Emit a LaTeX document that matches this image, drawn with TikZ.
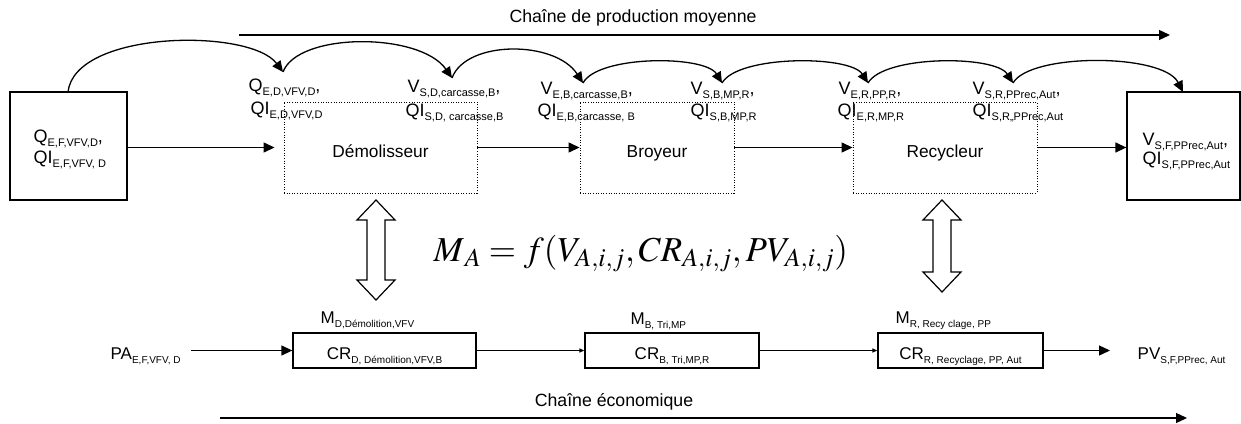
\documentclass[tikz,border=0pt]{standalone}
\usepackage{mathptmx}
\usepackage[no-math]{fontspec}
\setmainfont{Liberation Sans}
\usetikzlibrary{arrows.meta}

\newcommand{\tsub}[2]{#1\raisebox{-4.5pt}{\fontsize{11}{12}\selectfont #2}}
\newcommand{\bsub}[2]{#1\raisebox{-4pt}{\fontsize{10}{11}\selectfont #2}}

\begin{document}
\begin{tikzpicture}[x=1pt,y=-1pt,line width=1.3pt,
    flow/.style={-{Triangle[length=11pt,width=10pt]}},
    thinflow/.style={-{Triangle[length=5pt,width=4pt]}},
    actor/.style={draw,line width=0.9pt,dash pattern=on 1pt off 1.6pt,inner sep=0pt,
        minimum height=91,text height=19pt,text depth=0pt,font=\fontsize{17.3}{18}\selectfont},
    ecobox/.style={draw,inner sep=0pt,minimum height=35,text height=17pt,text depth=0pt,
        font=\fontsize{17}{18}\selectfont},
    lbl/.style={anchor=base west,inner sep=0pt,font=\fontsize{18}{18}\selectfont},
    blbl/.style={anchor=base west,inner sep=0pt,font=\fontsize{17}{17}\selectfont},
    title/.style={anchor=base,inner sep=0pt,font=\fontsize{17.7}{18}\selectfont},
    hollow/.style={fill=white,line width=1.2pt}]
    \useasboundingbox (0,0) rectangle (1241,423);

    % Chaine de production
    \coordinate (prodL) at (239,35);
    \coordinate (prodR) at (1170,35);
    \draw[flow] (prodL) -- (prodR);
    \node[title] (prodtitle) at (633,23) {Chaîne de production moyenne};

    % Entree, acteurs, sortie
    \node[draw,inner sep=0pt,minimum width=117,minimum height=108] (src) at (68.5,146) {};
    \node[actor,minimum width=193] (demol) at (380.5,147.5) {Démolisseur};
    \node[actor,minimum width=154] (broy) at (657,147.5) {Broyeur};
    \node[actor,minimum width=184] (recyc) at (945,147.5) {Recycleur};
    \node[draw,inner sep=0pt,minimum width=113,minimum height=108] (dst) at (1183.5,146) {};

    \draw[flow,shorten >=9pt] (src.east |- demol.west) -- (demol.west);
    \draw[flow] (demol) -- (broy);
    \draw[flow] (broy) -- (recyc);
    \draw[flow] (recyc.east) -- (dst.west |- recyc.east);

    % Quantites et valeurs
    \node[lbl] (qF) at (33,142) {\tsub{Q}{E,F,VFV,D},};
    \node[lbl] (qiF) at (33,163) {\tsub{QI}{E,F,VFV, D}};
    \node[lbl] (qED) at (248,91) {\tsub{Q}{E,D,VFV,D},};
    \node[lbl] (qiED) at (250,114) {\tsub{QI}{E,D,VFV,D}};
    \node[lbl] (vSD) at (407,92) {\tsub{V}{S,D,carcasse,B},};
    \node[lbl] (qiSD) at (405,116) {\tsub{QI}{S,D, carcasse,B}};
    \node[lbl] (vEB) at (540,94) {\tsub{V}{E,B,carcasse,B},};
    \node[lbl] (qiEB) at (537,116) {\tsub{QI}{E,B,carcasse, B}};
    \node[lbl] (vSB) at (690,94) {\tsub{V}{S,B,MP,R},};
    \node[lbl] (qiSB) at (690,116) {\tsub{QI}{S,B,MP,R}};
    \node[lbl] (vER) at (838,94) {\tsub{V}{E,R,PP,R},};
    \node[lbl] (qiER) at (837,116) {\tsub{QI}{E,R,MP,R}};
    \node[lbl] (vSR) at (972,94) {\tsub{V}{S,R,PPrec,Aut},};
    \node[lbl] (qiSR) at (972,116) {\tsub{QI}{S,R,,PPrec,Aut}};
    \node[lbl] (vSF) at (1142,145) {\tsub{V}{S,F,PPrec,Aut},};
    \node[lbl] (qiSF) at (1142,164) {\tsub{QI}{S,F,PPrec,Aut}};

    % Arcs entre les etapes
    \coordinate (a0) at (68,92);
    \coordinate (a1) at (283,72);
    \coordinate (a2) at (452,78);
    \coordinate (a3) at (583,83);
    \coordinate (a4) at (722,83);
    \coordinate (a5) at (868,83);
    \coordinate (a6) at (1013,83);
    \coordinate (a7) at (1183,92);
    \draw[flow] (a0) .. controls (75,30) and (250,28) .. (a1);
    \draw[flow] (a1) .. controls (298,32) and (420,32) .. (a2);
    \draw[flow] (a2) .. controls (466,40) and (555,40) .. (a3);
    \draw[flow] (a3) .. controls (598,55) and (705,55) .. (a4);
    \draw[flow] (a4) .. controls (738,55) and (850,55) .. (a5);
    \draw[flow] (a5) .. controls (884,55) and (995,55) .. (a6);
    \draw[flow] (a6) .. controls (1030,53) and (1163,53) .. (a7);

    % Doubles fleches
    \foreach \x/\t/\b in {376/200/300, 942/200/292} {
        \draw[hollow] (\x,\t) -- ++(19,20) -- ++(-10,0) -- (\x+9,\b-20) -- ++(10,0)
            -- (\x,\b) -- ++(-19,-20) -- ++(10,0) -- (\x-9,\t+20) -- ++(-10,0) -- cycle;
    }

    \node[anchor=base west,inner sep=0pt,font=\fontsize{35}{36}\selectfont] (eqM) at (433,261)
        {$M_{\,A} = f(V_{A,i,j},CR_{A,i,j},PV_{A,i,j})$};

    % Chaine economique
    \node[blbl] (pa) at (110,359) {\bsub{PA}{E,F,VFV, D}};
    \node[ecobox,minimum width=183] (crD) at (384.5,350.5) {\bsub{CR}{D, Démolition,VFV,B}};
    \node[ecobox,minimum width=174] (crB) at (672,350.5) {\bsub{CR}{B, Tri,MP,R}};
    \node[ecobox,minimum width=165] (crR) at (960.5,350.5) {\bsub{CR}{R, Recyclage, PP, Aut}};
    \node[blbl] (pv) at (1137,359) {\bsub{PV}{S,F,PPrec, Aut}};
    \node[blbl] (mD) at (320,323) {\bsub{M}{D,Démolition,VFV}};
    \node[blbl] (mB) at (630,324) {\bsub{M}{B, Tri,MP}};
    \node[blbl] (mR) at (895,323) {\bsub{M}{R, Recy clage, PP}};

    \draw[flow,shorten <=10pt] (pa.east |- crD.west) -- (crD.west);
    \draw[thinflow] (crD) -- (crB);
    \draw[thinflow] (crB) -- (crR);
    \draw[flow,shorten >=27pt] (crR.east) -- (pv.west |- crR.east);

    \coordinate (ecoL) at (220,418);
    \coordinate (ecoR) at (1187,418);
    \draw[flow] (ecoL) -- (ecoR);
    \node[title] (ecotitle) at (614,406) {Chaîne économique};
\end{tikzpicture}
\end{document}
